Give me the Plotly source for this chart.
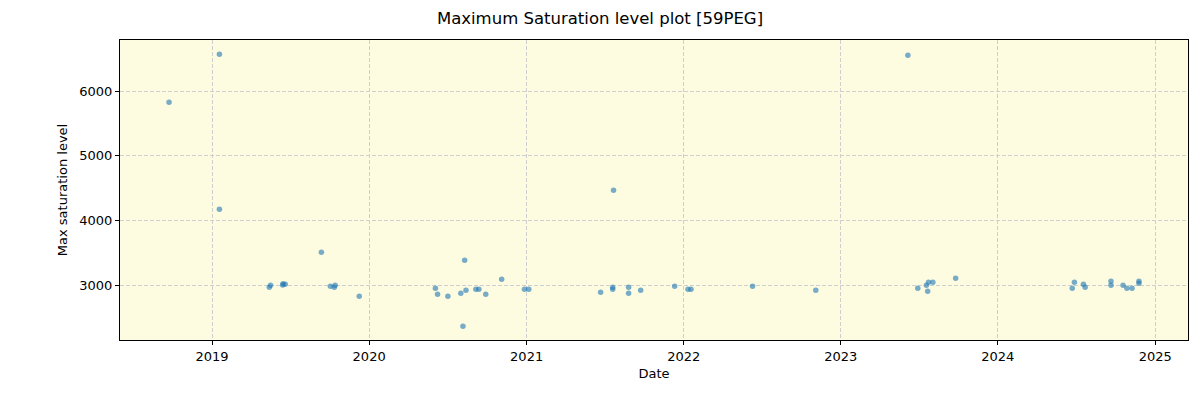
import pandas as pd
import plotly.graph_objects as go

# readings per observation date
dates = [
    "2018-09-23", "2019-01-18", "2019-01-18", "2019-05-14", "2019-05-17",
    "2019-06-14", "2019-06-15", "2019-06-20", "2019-09-12", "2019-10-03",
    "2019-10-12", "2019-10-14", "2019-12-09", "2020-06-03", "2020-06-08",
    "2020-07-02", "2020-08-01", "2020-08-06", "2020-08-10", "2020-08-13",
    "2020-09-05", "2020-09-12", "2020-09-28", "2020-11-04", "2020-12-27",
    "2021-01-06", "2021-06-22", "2021-07-20", "2021-07-20", "2021-07-22",
    "2021-08-26", "2021-08-26", "2021-09-23", "2021-12-11", "2022-01-11",
    "2022-01-18", "2022-06-10", "2022-11-04", "2023-06-06", "2023-06-29",
    "2023-07-19", "2023-07-22", "2023-07-24", "2023-08-03", "2023-09-25",
    "2024-06-22", "2024-06-27", "2024-07-18", "2024-07-22", "2024-09-20",
    "2024-09-20", "2024-10-18", "2024-10-27", "2024-11-08", "2024-11-24",
    "2024-11-24",
]
max_sat = [
    5827, 6568, 4176, 2972, 3003,
    3008, 3028, 3018, 3512, 2988,
    2972, 3003, 2833, 2957, 2864,
    2833, 2880, 2370, 3389, 2926,
    2941, 2941, 2864, 3096, 2941,
    2941, 2895, 2972, 2941, 4469,
    2972, 2880, 2926, 2988, 2941,
    2941, 2988, 2926, 6552, 2957,
    3003, 2910, 3049, 3049, 3111,
    2957, 3049, 3019, 2972, 3065,
    3003, 3003, 2957, 2957, 3065,
    3034,
]

df = pd.DataFrame({"date": pd.to_datetime(dates), "level": max_sat})

fig = go.Figure()
fig.add_trace(go.Scatter(
    x=df["date"], y=df["level"], mode="markers",
    marker=dict(color="rgba(31,119,180,0.6)", size=5.5, line=dict(width=0)),
    showlegend=False,
))

axis_common = dict(
    showline=True, linecolor="black", linewidth=1, mirror=True,
    ticks="outside", ticklen=4, tickcolor="black",
    showgrid=True, gridcolor="#cfcfcf", griddash="4px,2px", gridwidth=1,
    zeroline=False, tickfont=dict(size=13, color="black"),
)

# the page body adds an 8px offset, so the figure is sized to compensate
fig.update_layout(
    width=1184, height=392,
    margin=dict(l=112, r=4, t=32, b=60),
    paper_bgcolor="white", plot_bgcolor="#FDFCE1",
    font=dict(family="DejaVu Sans", color="black"),
    title=dict(text="Maximum Saturation level plot [59PEG]", x=0.5, y=0.975,
               xanchor="center", yanchor="middle", font=dict(size=16.5)),
    xaxis=dict(
        axis_common, title=dict(text="Date", font=dict(size=13), standoff=6),
        range=["2018-06-01", "2025-03-18"], dtick="M12", tick0="2019-01-01",
        tickformat="%Y",
    ),
    yaxis=dict(
        axis_common, title=dict(text="Max saturation level", font=dict(size=13), standoff=8),
        range=[2159, 6789], dtick=1000, tickformat="d",
    ),
)

fig.write_html("out.html")
